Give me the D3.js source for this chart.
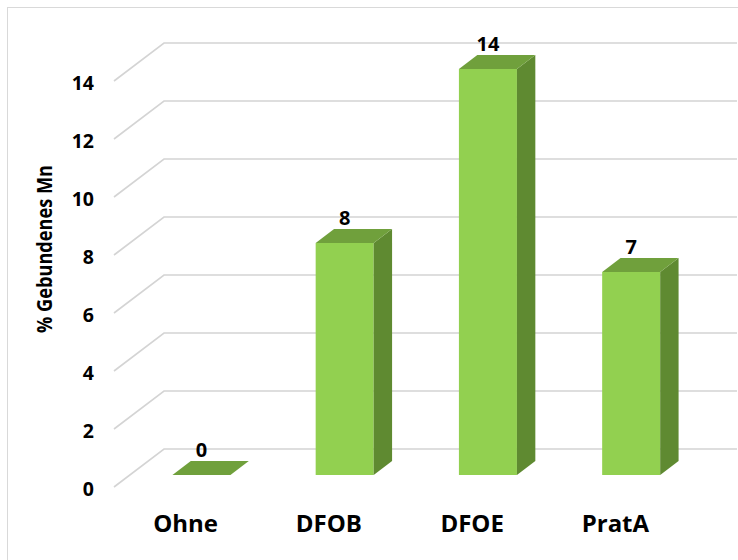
<!DOCTYPE html>
<html>
<head>
<meta charset="utf-8">
<script src="https://cdn.jsdelivr.net/npm/d3@7"></script>
<style>
  html, body { margin: 0; padding: 0; background: #fff; }
  svg { display: block; }
  text { font-family: "Open Sans", "Noto Sans", sans-serif; font-weight: bold; fill: #000; }
</style>
</head>
<body>
<svg id="chart" width="738" height="560"></svg>
<script>
// Bound manganese by siderophore treatment
const categories = ["Ohne", "DFOB", "DFOE", "PratA"];
const values = [0, 8, 14, 7];
const yTicks = [0, 2, 4, 6, 8, 10, 12, 14];
const yTitle = "% Gebundenes Mn";

const W = 738, H = 560;
const svg = d3.select("#chart");

// oblique projection: depth d in [0,1] shifts points right and up
const DEPTH_X = 50, DEPTH_Y = 38;
const barFront = 0.316, barBack = 0.684;

// front plane scales
const x = d3.scaleBand().domain(categories).range([114, 687]).padding(0);
const y = d3.scaleLinear().domain([0, 14]).range([487, 81]);
const barW = x.bandwidth() * 0.405;

const px = (xv, d) => xv + d * DEPTH_X;
const py = (yv, d) => yv - d * DEPTH_Y;

// chart frame
svg.append("rect")
  .attr("x", 7.5).attr("y", 7.5)
  .attr("width", W).attr("height", H)
  .attr("fill", "none").attr("stroke", "#d9d9d9").attr("stroke-width", 1);

// gridlines: side wall diagonal + back wall
const x0 = x.range()[0], x1 = x.range()[1];
svg.append("g").selectAll("path")
  .data(yTicks)
  .join("path")
  .attr("d", v => d3.line()([
    [x0, y(v)],
    [px(x0, 1), py(y(v), 1)],
    [px(x1, 1), py(y(v), 1)]
  ]))
  .attr("fill", "none")
  .attr("stroke", "#d4d4d4")
  .attr("stroke-width", 1.6);

// bars
const bars = svg.append("g").selectAll("g")
  .data(categories.map((c, i) => ({ c, v: values[i] })))
  .join("g");

const faceGeom = d => {
  const cx = x(d.c) + x.bandwidth() / 2;
  const fl = px(cx - barW / 2, barFront), fr = px(cx + barW / 2, barFront);
  const ddx = (barBack - barFront) * DEPTH_X, ddy = (barBack - barFront) * DEPTH_Y;
  const yt = py(y(d.v), barFront), yb = py(y(0), barFront);
  return { fl, fr, ddx, ddy, yt, yb };
};

// front face
bars.append("rect")
  .attr("x", d => faceGeom(d).fl)
  .attr("y", d => faceGeom(d).yt)
  .attr("width", d => faceGeom(d).fr - faceGeom(d).fl)
  .attr("height", d => faceGeom(d).yb - faceGeom(d).yt)
  .attr("fill", "#92d050");

// side face
bars.append("path")
  .attr("d", d => {
    const g = faceGeom(d);
    return d3.line()([[g.fr, g.yt], [g.fr + g.ddx, g.yt - g.ddy], [g.fr + g.ddx, g.yb - g.ddy], [g.fr, g.yb]]) + "Z";
  })
  .attr("fill", "#5f8a31");

// top face
bars.append("path")
  .attr("d", d => {
    const g = faceGeom(d);
    return d3.line()([[g.fl, g.yt], [g.fr, g.yt], [g.fr + g.ddx, g.yt - g.ddy], [g.fl + g.ddx, g.yt - g.ddy]]) + "Z";
  })
  .attr("fill", "#70a03c");

// value labels
bars.append("text")
  .attr("x", d => (faceGeom(d).fl + faceGeom(d).fr) / 2)
  .attr("y", d => faceGeom(d).yt - faceGeom(d).ddy - 4)
  .attr("text-anchor", "middle")
  .style("font-size", "20px")
  .text(d => d.v);

// value axis labels
const yAxis = svg.append("g")
  .attr("transform", `translate(${x0},0)`)
  .call(d3.axisLeft(y).tickValues(yTicks).tickSize(0).tickPadding(20).tickFormat(d3.format("d")));
yAxis.select(".domain").remove();
yAxis.selectAll("text")
  .attr("dy", "0.42em")
  .style("font-size", "19.5px")
  .style("font-family", "'Open Sans', sans-serif")
  .style("font-weight", "bold")
  .attr("fill", "#000");

// category labels
const xAxis = svg.append("g")
  .attr("transform", `translate(0,${y(0)})`)
  .call(d3.axisBottom(x).tickSize(0).tickPadding(28));
xAxis.select(".domain").remove();
xAxis.selectAll("text")
  .attr("dy", "0.71em")
  .style("font-size", "24px")
  .style("font-family", "'Open Sans', sans-serif")
  .style("font-weight", "bold")
  .attr("fill", "#000");

// axis title
svg.append("text")
  .attr("transform", "translate(52,249) rotate(-90)")
  .attr("text-anchor", "middle")
  .attr("textLength", 168)
  .attr("lengthAdjust", "spacingAndGlyphs")
  .style("font-size", "22px")
  .text(yTitle);
</script>
</body>
</html>
